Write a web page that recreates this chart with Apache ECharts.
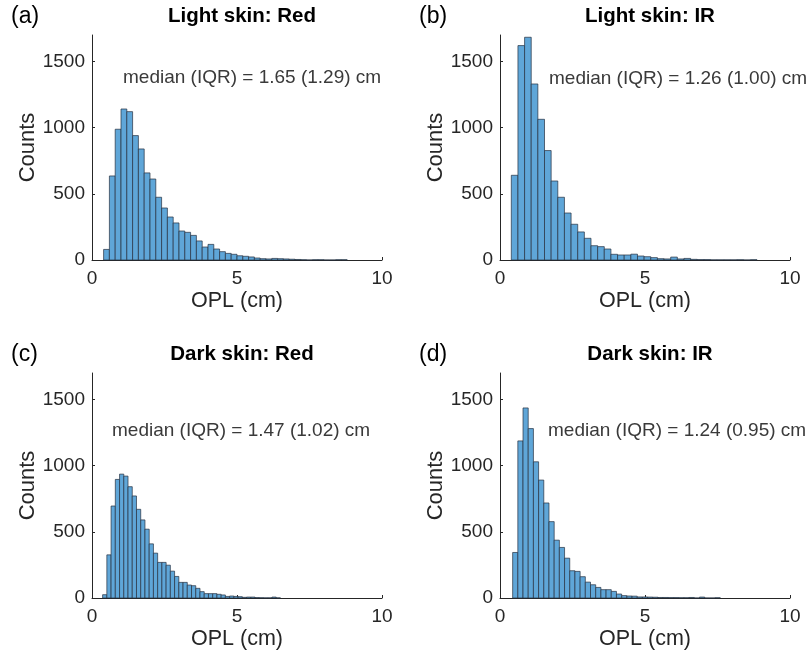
<!DOCTYPE html>
<html>
<head>
<meta charset="utf-8">
<script src="https://cdn.jsdelivr.net/npm/echarts@6/dist/echarts.min.js"></script>
<style>
	html, body { margin: 0; padding: 0; background: #fff; }
	#main { width: 808px; height: 656px; }
</style>
</head>
<body>
<div id="main"></div>
<script>
	// histogram bins: first edge, bin width, counts
	var startA = 0.4, widthA = 0.2;
	var countsA = [80, 635, 988, 1141, 1121, 940, 839, 658, 612, 474, 393, 325, 280, 219, 209, 186, 144, 98, 118, 83,
		63, 50, 43, 32, 28, 23, 15, 10, 8, 12, 10, 8, 6, 4, 2, 0, 2, 2, 0, 0, 2, 2];

	var startB = 0.39, widthB = 0.229;
	var countsB = [640, 1620, 1683, 1330, 1063, 827, 597, 474, 355, 270, 212, 164, 108, 101, 83, 43, 38, 38, 44, 30,
		25, 18, 10, 8, 22, 8, 12, 5, 3, 3, 1, 1, 1, 1, 2, 0, 2];

	var startC = 0.366, widthC = 0.146;
	var countsC = [25, 326, 695, 896, 936, 921, 841, 771, 670, 590, 520, 409, 339, 269, 269, 248, 203, 163, 118, 118,
		98, 93, 73, 48, 33, 33, 33, 28, 23, 12, 15, 12, 10, 5, 7, 7, 3, 2, 1, 1, 7, 1];

	var startD = 0.436, widthD = 0.179;
	var countsD = [344, 1187, 1436, 1280, 1029, 891, 718, 577, 437, 382, 301, 206, 201, 161, 120, 100, 80, 63, 63, 50,
		30, 18, 15, 14, 8, 8, 7, 6, 4, 4, 3, 3, 2, 2, 4, 0, 7, 0, 0, 2];

	var titles = ['Light skin: Red', 'Light skin: IR', 'Dark skin: Red', 'Dark skin: IR'];
	var letters = ['(a)', '(b)', '(c)', '(d)'];
	var notes = ['median (IQR) = 1.65 (1.29) cm', 'median (IQR) = 1.26 (1.00) cm',
		'median (IQR) = 1.47 (1.02) cm', 'median (IQR) = 1.24 (0.95) cm'];
	var xTicks = [0, 5, 10];
	var yTicks = [0, 500, 1000, 1500];

	var FONT = 'Liberation Sans, Arial, sans-serif';

	function toBins(start, width, counts) {
		var out = [];
		for (let i = 0; i < counts.length; i++) {
			out.push([start + i * width, start + (i + 1) * width, counts[i]]);
		}
		return out;
	}

	var bins = [
		toBins(startA, widthA, countsA),
		toBins(startB, widthB, countsB),
		toBins(startC, widthC, countsC),
		toBins(startD, widthD, countsD)
	];

	// panel boxes in pixels
	var boxes = [
		{ left: 92, top: 35 },
		{ left: 500, top: 35 },
		{ left: 92, top: 373 },
		{ left: 500, top: 373 }
	];
	var W = 290, H = 225;
	var notePos = [[123, 79], [549, 80], [112, 432], [548, 432]];

	var myChart = echarts.init(document.getElementById('main'), null, { renderer: 'canvas' });

	var grid = [], xAxis = [], yAxis = [], series = [], title = [], graphic = [];

	for (let i = 0; i < 4; i++) {
		var b = boxes[i];
		grid.push({ left: b.left, top: b.top, width: W, height: H, containLabel: false });
		xAxis.push({
			gridIndex: i,
			type: 'value',
			min: 0,
			max: 10,
			interval: 5,
			name: 'OPL (cm)',
			nameLocation: 'middle',
			nameGap: 30,
			nameTextStyle: { fontFamily: FONT, fontSize: 21.5, color: '#262626' },
			axisLine: { show: true, onZero: false, lineStyle: { color: '#262626', width: 1 } },
			axisTick: { show: true, inside: true, length: 3, lineStyle: { color: '#262626' }, customValues: xTicks },
			axisLabel: { fontFamily: FONT, fontSize: 19, color: '#262626', margin: 9, customValues: xTicks,
				formatter: function (v) { return String(v); } },
			splitLine: { show: false }
		});
		yAxis.push({
			gridIndex: i,
			type: 'value',
			min: 0,
			max: 1700,
			interval: 500,
			name: 'Counts',
			nameLocation: 'middle',
			nameRotate: 90,
			nameGap: 51,
			nameTextStyle: { fontFamily: FONT, fontSize: 22, color: '#262626' },
			axisLine: { show: true, lineStyle: { color: '#262626', width: 1 } },
			axisTick: { show: true, inside: true, length: 3, lineStyle: { color: '#262626' }, customValues: yTicks },
			axisLabel: { fontFamily: FONT, fontSize: 19, color: '#262626', margin: 7, customValues: yTicks,
				formatter: function (v) { return String(v); } },
			splitLine: { show: false }
		});
		series.push({
			type: 'custom',
			xAxisIndex: i,
			yAxisIndex: i,
			data: bins[i],
			renderItem: function (params, api) {
				var p0 = api.coord([api.value(0), api.value(2)]);
				var p1 = api.coord([api.value(1), 0]);
				return {
					type: 'rect',
					shape: { x: p0[0], y: p0[1], width: p1[0] - p0[0], height: p1[1] - p0[1] },
					style: { fill: '#5fa6d8', stroke: '#263040', lineWidth: 0.7 }
				};
			}
		});
		title.push({
			text: titles[i],
			left: b.left + W / 2,
			textAlign: 'center',
			top: b.top - 34,
			textStyle: { fontFamily: FONT, fontSize: 20.5, fontWeight: 'bold', color: '#000' }
		});
		graphic.push({
			type: 'text',
			left: i % 2 === 0 ? 11 : 419,
			top: b.top - 30,
			style: { text: letters[i], font: '23px ' + FONT, fill: '#000' }
		});
		graphic.push({
			type: 'text',
			left: notePos[i][0],
			top: notePos[i][1] - 11,
			style: { text: notes[i], font: '19px ' + FONT, fill: '#3a3a3a' }
		});
	}

	var option = {
		animation: false,
		backgroundColor: '#fff',
		title: title,
		grid: grid,
		xAxis: xAxis,
		yAxis: yAxis,
		series: series,
		graphic: graphic
	};

	option && myChart.setOption(option);
</script>
</body>
</html>
